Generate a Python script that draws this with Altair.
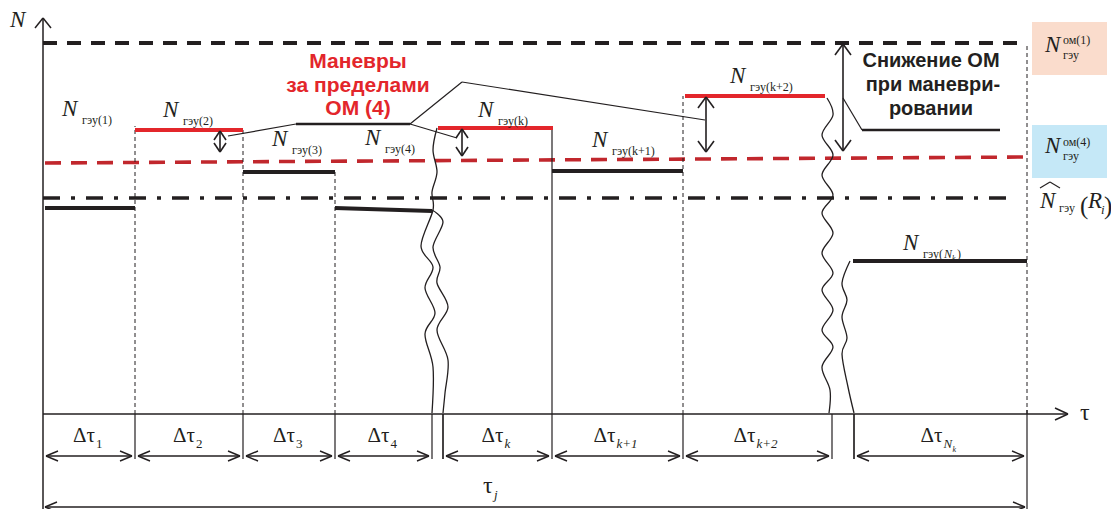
import altair as alt
import pandas as pd

# ---------------- data: τ along x, N upward, origin where the axes cross ----------------
# boundaries of the time intervals
iv_start = [0, 92, 200, 292, 400, 509, 640, 811]
iv_end = [92, 200, 292, 389, 509, 640, 789, 984]
iv_sub = ["1", "2", "3", "4", "k", "k+1", "k+2", "Nk"]
break_bounds = [389, 400, 789, 811]

# power levels per interval
seg_x1 = [2, 92, 200, 292, 395, 509, 642, 810]
seg_x2 = [92, 200, 292, 389, 510, 640, 782, 984]
seg_y1 = [206, 284, 242, 206, 286, 243, 318, 153]
seg_y2 = [206, 284, 242, 203, 286, 243, 318, 153]
seg_red = [False, True, False, False, True, False, True, False]
seg_sub = ["гэу(1)", "гэу(2)", "гэу(3)", "гэу(4)", "гэу(k)", "гэу(k+1)", "гэу(k+2)", "гэу("]

# reference levels
N_om1 = 371
N_om4 = [251, 257]
N_R = 216
tau_end = 984

# label anchors (layout)
lab_x = [19, 120, 229, 322, 435, 549, 687, 860]
lab_y = [298, 297, 268, 269, 297, 267, 331, 164]

# break (wavy) lines, control points
wave1 = [(394, 286), (390, 264), (394, 242), (389, 222), (390, 204), (378, 168), (390, 147),
         (382, 126), (392, 101), (382, 80), (390, 47), (389, 1)]
wave2 = [(389, 204), (400, 192), (390, 167), (397, 147), (394, 131), (405, 107), (394, 84),
         (405, 54), (402, 21), (400, 1)]
wave3 = [(784, 316), (790, 299), (779, 279), (790, 259), (779, 239), (790, 219), (779, 201),
         (790, 181), (779, 161), (790, 141), (779, 124), (790, 104), (779, 84), (790, 67),
         (779, 47), (787, 24), (786, 1)]
wave4 = [(807, 153), (799, 131), (804, 114), (799, 97), (804, 76), (799, 60), (805, 27), (811, 1)]

BLACK = "#231f20"
RED = "#e3262b"
DRED = "#c1272d"
SERIF = "Liberation Serif"
SANS = "Liberation Sans"

XS = alt.Scale(domain=[-35, 1068], nice=False, zero=False)
YS = alt.Scale(domain=[-95, 406], nice=False, zero=False)


def rules(rows, **mark):
    df = pd.DataFrame(rows, columns=["x", "y", "x2", "y2"])
    return alt.Chart(df).mark_rule(**mark).encode(
        x=alt.X("x:Q", scale=XS, axis=None),
        y=alt.Y("y:Q", scale=YS, axis=None),
        x2="x2:Q", y2="y2:Q")


def texts(rows, **mark):
    df = pd.DataFrame(rows, columns=["x", "y", "t"])
    return alt.Chart(df).mark_text(baseline="alphabetic", **mark).encode(
        x=alt.X("x:Q", scale=XS, axis=None),
        y=alt.Y("y:Q", scale=YS, axis=None),
        text="t:N")


def head(tx, ty, dx, dy, L, W):
    bx, by = tx - dx * L, ty - dy * L
    px, py = -dy, dx
    return [(bx + px * W, by + py * W, tx, ty), (bx - px * W, by - py * W, tx, ty)]


def darrow_v(x, ytop, ybot, L, W):
    r = [(x, ytop, x, ybot)]
    r += head(x, ytop, 0, 1, L, W)
    r += head(x, ybot, 0, -1, L, W)
    return r


def darrow_h(xl, xr, y, L, W):
    r = [(xl, y, xr, y)]
    r += head(xl, y, -1, 0, L, W)
    r += head(xr, y, 1, 0, L, W)
    return r


layers = []

# --- reference levels
layers.append(rules([(0, N_om1, tau_end, N_om1)], color=BLACK, strokeWidth=4,
                    strokeDash=[14, 10], strokeCap="butt"))
layers.append(rules([(2, N_om4[0], tau_end, N_om4[1])], color=DRED, strokeWidth=3.6,
                    strokeDash=[16, 10], strokeCap="butt"))
layers.append(rules([(0, N_R, 974, N_R)], color=BLACK, strokeWidth=3.4,
                    strokeDash=[17, 11, 4, 11], strokeCap="butt"))

# --- vertical boundaries above the axis
dashed_v = [(seg_x1[1], 0, seg_x1[1], seg_y1[1] + 4), (seg_x2[1], 0, seg_x2[1], seg_y1[1]),
            (seg_x2[2], 0, seg_x2[2], seg_y1[2]), (seg_x2[5], 0, seg_x2[5], seg_y1[6]),
            (tau_end, 0, tau_end, N_om1)]
layers.append(rules(dashed_v, color=BLACK, strokeWidth=1, strokeDash=[4, 3]))
layers.append(rules([(iv_start[5], 0, iv_start[5], seg_y1[4])], color=BLACK, strokeWidth=1.2))

# --- level segments
blk = [(seg_x1[i], seg_y1[i], seg_x2[i], seg_y2[i]) for i in range(8) if not seg_red[i]]
red = [(seg_x1[i], seg_y1[i], seg_x2[i], seg_y2[i]) for i in range(8) if seg_red[i]]
layers.append(rules(blk, color=BLACK, strokeWidth=3.8, strokeCap="butt"))
layers.append(rules(red, color=RED, strokeWidth=3.8, strokeCap="butt"))

# --- wavy break lines
wrows = []
for g, w in enumerate([wave1, wave2, wave3, wave4]):
    for i, (x, y) in enumerate(w):
        wrows.append({"x": x, "y": y, "g": g, "i": i})
layers.append(alt.Chart(pd.DataFrame(wrows)).mark_line(
    color=BLACK, strokeWidth=1.3, interpolate="cardinal").encode(
    x=alt.X("x:Q", scale=XS, axis=None), y=alt.Y("y:Q", scale=YS, axis=None),
    detail="g:N", order="i:Q"))

# --- axes
ax = [(0, -95, 0, 396), (0, 0, 1025, 0)]
ax += head(0, 396, 0, 1, 10, 8)
ax += head(1025, 0, 1, 0, 13, 6)
layers.append(rules(ax, color=BLACK, strokeWidth=1.5))

# --- ticks below the axis
ticks = [(b, 0, b, -45) for b in iv_start[1:] + break_bounds]
ticks += [(tau_end, 4, tau_end, -95)]
layers.append(rules(ticks, color=BLACK, strokeWidth=1.2))

# --- dimension arrows
dim = []
for a, b in zip(iv_start, iv_end):
    dim += darrow_h(a + 3, b - 3, -42, 12, 5)
dim += darrow_h(2, 982, -93, 12, 5)
layers.append(rules(dim, color=BLACK, strokeWidth=1.4))

# --- vertical double arrows
arr = []
arr += darrow_v(177, 283, 262, 9, 6)
arr += darrow_v(419, 285, 258, 9, 6)
arr += darrow_v(663, 317, 262, 11, 8)
arr += darrow_v(800, 370, 263, 11, 8)
layers.append(rules(arr, color=BLACK, strokeWidth=1.6))

# --- leader lines
lead = [(185, 278, 253, 290), (367, 290, 414, 276), (367, 290, 419, 332),
        (419, 332, 662, 294), (800, 316, 819, 284)]
layers.append(rules(lead, color=BLACK, strokeWidth=1.2))
layers.append(rules([(253, 290, 367, 290), (819, 284, 957, 284)], color=BLACK, strokeWidth=2.6))

# --- coloured boxes on the right
boxdf = pd.DataFrame({"x": [989, 989], "x2": [1064, 1064], "y": [392, 289], "y2": [339, 236],
                      "c": ["#fadccc", "#c5e8f7"]})
layers.append(alt.Chart(boxdf).mark_rect().encode(
    x=alt.X("x:Q", scale=XS, axis=None), x2="x2:Q",
    y=alt.Y("y:Q", scale=YS, axis=None), y2="y2:Q",
    color=alt.Color("c:N", scale=None)))

# hat over N
hat = [(997, 226, 1007, 232), (1007, 232, 1017, 226)]
layers.append(rules(hat, color=BLACK, strokeWidth=1.1))

# --- texts
bigN = [(-33, 387, "N")] + [(lab_x[i], lab_y[i], "N") for i in range(8)]
bigN += [(1002, 362, "N"), (1002, 261, "N"), (997, 206, "N"), (1045, 206, "R")]
layers.append(texts(bigN, font=SERIF, fontSize=23, fontStyle="italic", color=BLACK, align="left"))

subs = [(lab_x[i] + 20, lab_y[i] - 8, seg_sub[i]) for i in range(8)]
subs += [(1020, 355, "гэу"), (1020, 254, "гэу"), (1016, 202, "гэу"),
         (1020, 370, "ом(1)"), (1020, 268, "ом(4)")]
layers.append(texts(subs, font=SERIF, fontSize=12, color=BLACK, align="left"))
# N_k inside the last subscript
layers.append(texts([(lab_x[7] + 41, lab_y[7] - 8, "N")], font=SERIF, fontSize=12,
                    fontStyle="italic", color=BLACK, align="left"))
layers.append(texts([(lab_x[7] + 49, lab_y[7] - 11, "k")], font=SERIF, fontSize=8,
                    fontStyle="italic", color=BLACK, align="left"))
layers.append(texts([(lab_x[7] + 54, lab_y[7] - 8, ")")], font=SERIF, fontSize=12,
                    color=BLACK, align="left"))

# (R_i)
layers.append(texts([(1037, 200, "("), (1061, 200, ")")], font=SERIF, fontSize=25,
                    color=BLACK, align="left"))
layers.append(texts([(1058, 200, "i")], font=SERIF, fontSize=13, fontStyle="italic",
                    color=BLACK, align="left"))

# Δτ labels
dt_main, dt_sub_up, dt_sub_it = [], [], []
for a, b, s in zip(iv_start, iv_end, iv_sub):
    mid = (a + b) / 2
    j = mid + 10 - 4 * len(s)
    dt_main.append((j, -28, "Δτ"))
    if s.isdigit():
        dt_sub_up.append((j + 1, -34, s))
    elif s == "Nk":
        dt_sub_it.append((j + 1, -34, "N"))
    else:
        dt_sub_it.append((j + 1, -34, s))
layers.append(texts(dt_main, font=SERIF, fontSize=21, color=BLACK, align="right"))
layers.append(texts(dt_sub_up, font=SERIF, fontSize=13, color=BLACK, align="left"))
layers.append(texts(dt_sub_it, font=SERIF, fontSize=13, fontStyle="italic", color=BLACK, align="left"))
nk = [r for r in dt_sub_it if r[2] == "N"][0]
layers.append(texts([(nk[0] + 9, nk[1] - 4, "k")], font=SERIF, fontSize=8,
                    fontStyle="italic", color=BLACK, align="left"))

# τ labels
layers.append(texts([(1037, -6, "τ"), (440, -79, "τ")], font=SERIF, fontSize=24,
                    color=BLACK, align="left"))
layers.append(texts([(451, -85, "j")], font=SERIF, fontSize=13, fontStyle="italic",
                    color=BLACK, align="left"))

# bold annotations
ann_red = [(315, 346, "Маневры"), (315, 322, "за пределами"), (315, 299, "ОМ (4)")]
ann_blk = [(888, 347, "Снижение ОМ"), (890, 323, "при маневри-"), (888, 299, "ровании")]
layers.append(texts(ann_red, font=SANS, fontSize=21, fontWeight="bold", color=RED, align="center"))
layers.append(texts(ann_blk, font=SANS, fontSize=20, fontWeight="bold", color=BLACK, align="center"))

chart = alt.layer(*layers).properties(
    width=1103, height=501, padding=0,
    autosize=alt.AutoSizeParams(type="none")
).configure_view(stroke=None)

chart.save("out.html", embed_options={"renderer": "svg", "actions": False})
